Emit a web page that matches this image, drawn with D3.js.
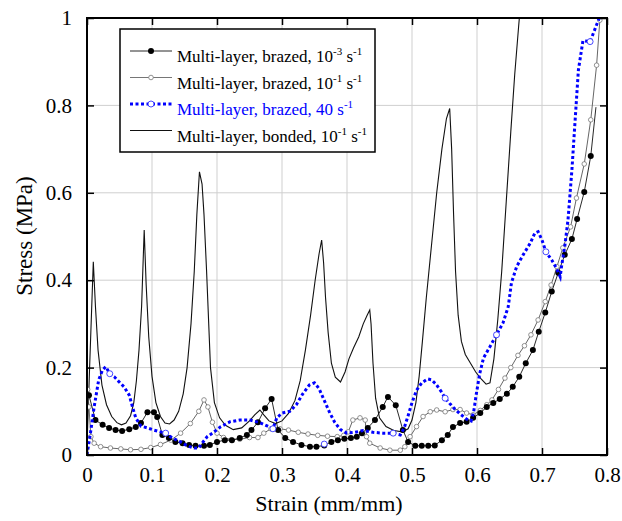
<!DOCTYPE html>
<html>
<head>
<meta charset="utf-8">
<script src="https://cdn.jsdelivr.net/npm/d3@7"></script>
<style>
  body { margin: 0; background: #fff; }
  svg { display: block; }
  text { font-family: "Liberation Serif", "Times New Roman", serif; }
</style>
</head>
<body>
<svg id="chart" width="622" height="521"></svg>
<script>
// Axis ticks
const xTicks = [0, 0.1, 0.2, 0.3, 0.4, 0.5, 0.6, 0.7, 0.8];
const xTickLabels = ["0", "0.1", "0.2", "0.3", "0.4", "0.5", "0.6", "0.7", "0.8"];
const yTicks = [0, 0.2, 0.4, 0.6, 0.8, 1];
const yTickLabels = ["0", "0.2", "0.4", "0.6", "0.8", "1"];

// Multi-layer, brazed, 1e-3 /s  [strain, stress]
const brazedSlow = [
  [0.003,0.137],[0.013,0.08],[0.024,0.069],[0.034,0.062],[0.044,0.057],[0.054,0.055],[0.065,0.059],
  [0.075,0.064],[0.083,0.073],[0.093,0.098],[0.103,0.098],[0.108,0.087],[0.116,0.046],[0.126,0.039],
  [0.136,0.03],[0.147,0.027],[0.157,0.023],[0.167,0.021],[0.18,0.021],[0.189,0.023],[0.2,0.03],
  [0.212,0.034],[0.223,0.034],[0.235,0.039],[0.246,0.046],[0.253,0.057],[0.263,0.075],[0.274,0.107],
  [0.284,0.128],[0.294,0.057],[0.305,0.039],[0.317,0.03],[0.33,0.023],[0.343,0.019],[0.353,0.019],
  [0.365,0.022],[0.376,0.03],[0.386,0.034],[0.396,0.037],[0.406,0.039],[0.415,0.042],[0.423,0.05],
  [0.432,0.062],[0.443,0.08],[0.455,0.11],[0.463,0.133],[0.475,0.114],[0.486,0.057],[0.494,0.03],
  [0.505,0.021],[0.515,0.021],[0.525,0.021],[0.535,0.022],[0.546,0.034],[0.555,0.046],[0.563,0.064],
  [0.574,0.073],[0.584,0.076],[0.594,0.085],[0.605,0.096],[0.615,0.11],[0.625,0.119],[0.635,0.128],
  [0.646,0.14],[0.655,0.156],[0.665,0.179],[0.675,0.21],[0.686,0.24],[0.695,0.282],[0.705,0.326],
  [0.715,0.374],[0.725,0.417],[0.735,0.458],[0.746,0.494],[0.754,0.54],[0.765,0.602],[0.775,0.684],
  [0.783,0.796]
];

// Multi-layer, brazed, 1e-1 /s
const brazedMid = [
  [0.001,0.15],[0.003,0.11],[0.006,0.042],[0.011,0.027],[0.021,0.019],[0.036,0.016],[0.052,0.014],
  [0.067,0.012],[0.083,0.013],[0.098,0.017],[0.113,0.024],[0.129,0.034],[0.144,0.05],[0.159,0.072],
  [0.172,0.1],[0.18,0.126],[0.186,0.11],[0.193,0.075],[0.2,0.05],[0.21,0.04],[0.222,0.035],
  [0.235,0.036],[0.25,0.04],[0.263,0.04],[0.272,0.05],[0.283,0.06],[0.297,0.06],[0.31,0.057],
  [0.325,0.052],[0.34,0.048],[0.355,0.045],[0.37,0.043],[0.385,0.042],[0.395,0.045],[0.402,0.053],
  [0.409,0.08],[0.42,0.085],[0.428,0.08],[0.43,0.042],[0.435,0.027],[0.451,0.016],[0.466,0.011],
  [0.482,0.011],[0.489,0.019],[0.497,0.042],[0.507,0.065],[0.517,0.088],[0.528,0.099],[0.538,0.103],
  [0.551,0.099],[0.563,0.104],[0.574,0.104],[0.584,0.096],[0.594,0.092],[0.605,0.102],[0.615,0.115],
  [0.623,0.126],[0.633,0.15],[0.643,0.176],[0.652,0.2],[0.663,0.228],[0.673,0.25],[0.683,0.275],
  [0.694,0.309],[0.705,0.351],[0.714,0.389],[0.723,0.431],[0.732,0.474],[0.744,0.522],[0.753,0.588],
  [0.765,0.666],[0.775,0.767],[0.784,0.892],[0.789,0.995]
];

// Multi-layer, brazed, 40 /s
const brazedFast = [
  [0,0],[0.006,0.057],[0.011,0.11],[0.018,0.172],[0.024,0.195],[0.029,0.202],[0.035,0.186],
  [0.042,0.179],[0.049,0.168],[0.057,0.156],[0.065,0.137],[0.07,0.11],[0.075,0.085],[0.083,0.066],
  [0.093,0.062],[0.103,0.057],[0.113,0.053],[0.121,0.05],[0.131,0.039],[0.144,0.03],[0.154,0.021],
  [0.165,0.016],[0.172,0.016],[0.177,0.027],[0.185,0.042],[0.193,0.05],[0.205,0.064],[0.22,0.076],
  [0.235,0.08],[0.251,0.08],[0.266,0.074],[0.278,0.066],[0.286,0.06],[0.292,0.085],[0.3,0.096],
  [0.312,0.1],[0.322,0.115],[0.332,0.14],[0.342,0.16],[0.35,0.165],[0.357,0.152],[0.365,0.125],
  [0.373,0.098],[0.381,0.075],[0.39,0.058],[0.4,0.05],[0.412,0.052],[0.425,0.056],[0.44,0.052],
  [0.455,0.05],[0.471,0.05],[0.482,0.046],[0.488,0.062],[0.494,0.09],[0.5,0.12],[0.507,0.148],
  [0.515,0.165],[0.524,0.174],[0.53,0.172],[0.537,0.162],[0.545,0.145],[0.551,0.13],[0.558,0.118],
  [0.566,0.105],[0.574,0.094],[0.584,0.082],[0.591,0.078],[0.595,0.1],[0.599,0.14],[0.604,0.185],
  [0.61,0.222],[0.62,0.248],[0.63,0.275],[0.64,0.302],[0.648,0.339],[0.653,0.394],[0.661,0.431],
  [0.671,0.458],[0.682,0.485],[0.689,0.508],[0.694,0.511],[0.7,0.492],[0.706,0.465],[0.715,0.446],
  [0.722,0.428],[0.728,0.408],[0.73,0.431],[0.735,0.477],[0.74,0.538],[0.746,0.652],[0.751,0.767],
  [0.756,0.881],[0.763,0.948],[0.774,0.946],[0.779,0.965],[0.788,1.0]
];
// open-circle symbols on the 40 /s record
const brazedFastMarkers = [
  [0.035,0.186],[0.121,0.05],[0.286,0.06],[0.365,0.025],[0.471,0.05],[0.551,0.13],
  [0.63,0.275],[0.706,0.465],[0.774,0.946]
];

// Multi-layer, bonded, 1e-1 /s
const bonded = [
  [0.0,0.02],[0.004,0.2],[0.0097,0.442],[0.013,0.34],[0.017,0.24],[0.023,0.16],[0.03,0.115],
  [0.038,0.088],[0.046,0.074],[0.053,0.069],[0.06,0.073],[0.067,0.09],[0.072,0.12],[0.076,0.17],
  [0.08,0.24],[0.084,0.34],[0.088,0.515],[0.091,0.39],[0.095,0.27],[0.1,0.18],[0.106,0.12],
  [0.113,0.088],[0.12,0.073],[0.127,0.071],[0.134,0.08],[0.141,0.1],[0.148,0.14],[0.154,0.2],
  [0.16,0.3],[0.165,0.42],[0.169,0.55],[0.173,0.648],[0.177,0.62],[0.18,0.55],[0.184,0.42],
  [0.19,0.2],[0.196,0.12],[0.204,0.085],[0.213,0.068],[0.225,0.058],[0.238,0.062],[0.25,0.078],
  [0.258,0.092],[0.266,0.103],[0.272,0.092],[0.28,0.078],[0.29,0.072],[0.3,0.078],[0.31,0.095],
  [0.32,0.125],[0.328,0.17],[0.336,0.24],[0.344,0.32],[0.351,0.4],[0.357,0.46],[0.361,0.492],
  [0.364,0.44],[0.367,0.36],[0.371,0.28],[0.376,0.21],[0.382,0.178],[0.39,0.167],[0.397,0.19],
  [0.403,0.22],[0.41,0.245],[0.418,0.27],[0.425,0.3],[0.431,0.32],[0.435,0.332],[0.437,0.3],
  [0.44,0.21],[0.444,0.13],[0.45,0.085],[0.46,0.065],[0.472,0.056],[0.485,0.053],[0.494,0.06],
  [0.5,0.08],[0.506,0.12],[0.511,0.18],[0.516,0.26],[0.522,0.36],[0.53,0.48],[0.538,0.6],
  [0.546,0.7],[0.553,0.77],[0.558,0.793],[0.561,0.7],[0.564,0.55],[0.567,0.42],[0.571,0.32],
  [0.576,0.26],[0.582,0.23],[0.59,0.21],[0.598,0.19],[0.606,0.175],[0.614,0.162],[0.62,0.165],
  [0.626,0.22],[0.632,0.31],[0.638,0.42],[0.645,0.58],[0.652,0.74],[0.658,0.87],[0.664,0.98],
  [0.668,1.05]
];

// Legend entries: alternating normal / superscript pieces
const legendLabels = [
  ["Multi-layer, brazed, 10", "-3", " s", "-1"],
  ["Multi-layer, brazed, 10", "-1", " s", "-1"],
  ["Multi-layer, brazed, 40 s", "-1"],
  ["Multi-layer, bonded, 10", "-1", " s", "-1"]
];

const svg = d3.select("#chart");
const plot = { left: 87, right: 607, top: 18, bottom: 455 };
const x = d3.scaleLinear().domain([0, 0.8]).range([plot.left, plot.right]);
const y = d3.scaleLinear().domain([0, 1]).range([plot.bottom, plot.top]);

// grid
const grid = svg.append("g").attr("stroke", "#cfcfcf").attr("stroke-width", 1);
grid.selectAll(".gx").data(xTicks.slice(1, -1)).join("line")
  .attr("x1", d => x(d)).attr("x2", d => x(d))
  .attr("y1", plot.top).attr("y2", plot.bottom);
grid.selectAll(".gy").data(yTicks.slice(1, -1)).join("line")
  .attr("y1", d => y(d)).attr("y2", d => y(d))
  .attr("x1", plot.left).attr("x2", plot.right);

// clip to plot frame
svg.append("defs").append("clipPath").attr("id", "plotclip").append("rect")
  .attr("x", plot.left).attr("y", plot.top)
  .attr("width", plot.right - plot.left).attr("height", plot.bottom - plot.top);

const line = d3.line().x(d => x(d[0])).y(d => y(d[1]));
const curves = svg.append("g").attr("clip-path", "url(#plotclip)");

// bonded
curves.append("path").datum(bonded).attr("d", line)
  .attr("fill", "none").attr("stroke", "#111").attr("stroke-width", 1.1);

// brazed 1e-1
curves.append("path").datum(brazedMid).attr("d", line)
  .attr("fill", "none").attr("stroke", "#555").attr("stroke-width", 0.9);
curves.append("g").selectAll("circle").data(brazedMid).join("circle")
  .attr("cx", d => x(d[0])).attr("cy", d => y(d[1])).attr("r", 2.3)
  .attr("fill", "#fff").attr("stroke", "#777").attr("stroke-width", 0.8);

// brazed 1e-3
curves.append("path").datum(brazedSlow).attr("d", line)
  .attr("fill", "none").attr("stroke", "#111").attr("stroke-width", 0.9);
curves.append("g").selectAll("circle").data(brazedSlow.slice(0, -1)).join("circle")
  .attr("cx", d => x(d[0])).attr("cy", d => y(d[1])).attr("r", 3)
  .attr("fill", "#000");

// brazed 40
curves.append("path").datum(brazedFast).attr("d", line)
  .attr("fill", "none").attr("stroke", "#0000ff").attr("stroke-width", 3)
  .attr("stroke-dasharray", "3,2.5");
curves.append("g").selectAll("circle").data(brazedFastMarkers).join("circle")
  .attr("cx", d => x(d[0])).attr("cy", d => y(d[1])).attr("r", 3)
  .attr("fill", "#fff").attr("stroke", "#3333ff").attr("stroke-width", 0.9);

// axes with inward ticks
function styleAxis(g) {
  g.select(".domain").remove();
  g.selectAll(".tick line").attr("stroke", "#000").attr("stroke-width", 1.5);
  g.selectAll("text").attr("font-family", "Liberation Serif, serif").attr("font-size", 21).attr("fill", "#000");
}
svg.append("g").attr("transform", `translate(0,${plot.bottom})`)
  .call(d3.axisBottom(x).tickValues(xTicks).tickFormat((d, i) => xTickLabels[i])
    .tickSizeInner(-7).tickSizeOuter(0).tickPadding(12))
  .call(styleAxis);
svg.append("g").attr("transform", `translate(0,${plot.top})`)
  .call(d3.axisTop(x).tickValues(xTicks).tickFormat("").tickSizeInner(-7).tickSizeOuter(0))
  .call(styleAxis);
svg.append("g").attr("transform", `translate(${plot.left},0)`)
  .call(d3.axisLeft(y).tickValues(yTicks).tickFormat((d, i) => yTickLabels[i])
    .tickSizeInner(-7).tickSizeOuter(0).tickPadding(15))
  .call(styleAxis);
svg.append("g").attr("transform", `translate(${plot.right},0)`)
  .call(d3.axisRight(y).tickValues(yTicks).tickFormat("").tickSizeInner(-7).tickSizeOuter(0))
  .call(styleAxis);

// frame
svg.append("rect").attr("x", plot.left).attr("y", plot.top)
  .attr("width", plot.right - plot.left).attr("height", plot.bottom - plot.top)
  .attr("fill", "none").attr("stroke", "#000").attr("stroke-width", 2);

// axis titles
svg.append("text").attr("x", 329).attr("y", 511).attr("text-anchor", "middle")
  .attr("font-size", 22).text("Strain (mm/mm)");
svg.append("text").attr("transform", "translate(32,236) rotate(-90)")
  .attr("text-anchor", "middle").attr("font-size", 23).text("Stress (MPa)");

// legend
const lg = svg.append("g");
lg.append("rect").attr("x", 120).attr("y", 29).attr("width", 255).attr("height", 123)
  .attr("fill", "#fff").attr("stroke", "#000").attr("stroke-width", 1.5);
const rowBase = [62, 88.5, 115, 141.5];
const legendStyles = [
  { stroke: "#111", width: 0.9, dash: null, marker: "dot", color: "#000" },
  { stroke: "#666", width: 0.9, dash: null, marker: "ring", color: "#000" },
  { stroke: "#0000ff", width: 3, dash: "3,2.5", marker: "blue", color: "#0000ff" },
  { stroke: "#111", width: 1.1, dash: null, marker: null, color: "#000" }
];
legendLabels.forEach((parts, i) => {
  const st = legendStyles[i];
  const ly = rowBase[i] - 11;
  lg.append("line").attr("x1", 130).attr("x2", 172).attr("y1", ly).attr("y2", ly)
    .attr("stroke", st.stroke).attr("stroke-width", st.width)
    .attr("stroke-dasharray", st.dash);
  if (st.marker === "dot") lg.append("circle").attr("cx", 151).attr("cy", ly).attr("r", 3).attr("fill", "#000");
  if (st.marker === "ring") lg.append("circle").attr("cx", 151).attr("cy", ly).attr("r", 2.3)
    .attr("fill", "#fff").attr("stroke", "#777").attr("stroke-width", 0.8);
  if (st.marker === "blue") lg.append("circle").attr("cx", 151).attr("cy", ly).attr("r", 3)
    .attr("fill", "#fff").attr("stroke", "#3333ff").attr("stroke-width", 0.9);
  const t = lg.append("text").attr("x", 177).attr("y", rowBase[i])
    .attr("font-size", 17).attr("fill", st.color);
  parts.forEach((p, k) => {
    const sup = k % 2 === 1;
    t.append("tspan")
      .attr("dy", k === 0 ? 0 : (sup ? -7 : 7))
      .attr("font-size", sup ? 11 : 17)
      .text(p);
  });
});
</script>
</body>
</html>
